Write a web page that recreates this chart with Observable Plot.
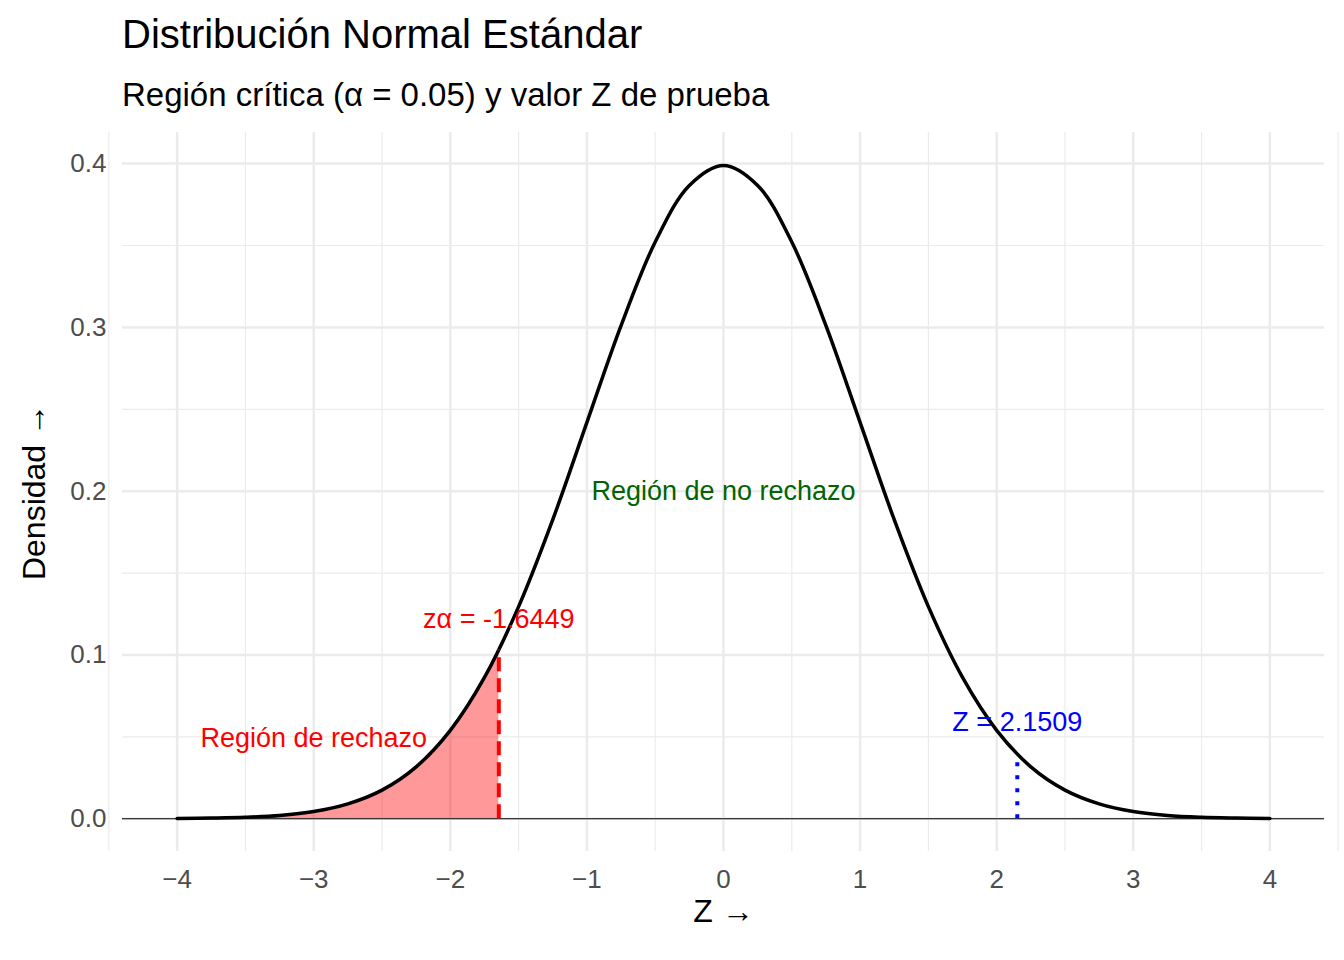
<!DOCTYPE html>
<html><head><meta charset="utf-8">
<script src="https://cdn.jsdelivr.net/npm/d3@7"></script>
<script src="https://cdn.jsdelivr.net/npm/@observablehq/plot@0.6"></script>
<style>
body{margin:0;background:#fff;font-family:"Liberation Sans",Arial,sans-serif;}
#wrap{position:relative;width:1344px;height:960px;}
#t{position:absolute;left:122px;top:12px;font-size:40px;color:#000;}
#s{position:absolute;left:122px;top:76px;font-size:33px;color:#000;}
#chart{position:absolute;left:0;top:0;}
</style></head><body>
<div id="wrap"><div id="chart"></div>
<div id="t">Distribución Normal Estándar</div>
<div id="s">Región crítica (α = 0.05) y valor Z de prueba</div></div>
<script>
// density values
const zs = [-4,-3.75,-3.5,-3.25,-3,-2.75,-2.5,-2.25,-2,-1.75,-1.5,-1.25,-1,-0.75,-0.5,-0.25,0,0.25,0.5,0.75,1,1.25,1.5,1.75,2,2.25,2.5,2.75,3,3.25,3.5,3.75,4];
const dens = [0.0001,0.0004,0.0009,0.002,0.0044,0.0091,0.0175,0.0317,0.054,0.0863,0.1295,0.1826,0.242,0.3011,0.3521,0.3867,0.3989,0.3867,0.3521,0.3011,0.242,0.1826,0.1295,0.0863,0.054,0.0317,0.0175,0.0091,0.0044,0.002,0.0009,0.0004,0.0001];
const zCrit = -1.6449, dCrit = 0.1031;
const zTest = 2.1509, dTest = 0.0395;

const curve = zs.map((z,i)=>({z, d:dens[i]}));
const shade = curve.filter(p=>p.z < zCrit).concat([{z:zCrit, d:dCrit}]);

const plot = Plot.plot({
  width:1344, height:960,
  marginLeft:122, marginRight:20, marginTop:132, marginBottom:109,
  style:{fontFamily:"Liberation Sans, Arial, sans-serif", fontSize:"26px", color:"#4d4d4d"},
  x:{domain:[-4.4,4.4], ticks:d3.range(-4,5), tickSize:0, tickPadding:18, label:"Z", labelAnchor:"center", labelOffset:70},
  y:{domain:[-0.02,0.419], ticks:[0,0.1,0.2,0.3,0.4], tickSize:0, tickPadding:16, tickFormat:d3.format(".1f"), label:"Densidad", labelAnchor:"center", labelOffset:100},
  marks:[
    Plot.gridX(d3.range(-4.5,4.6,1), {stroke:"#ebebeb", strokeOpacity:1, strokeWidth:1.2}),
    Plot.gridY([0.05,0.15,0.25,0.35], {stroke:"#ebebeb", strokeOpacity:1, strokeWidth:1.2}),
    Plot.gridX(d3.range(-4,5), {stroke:"#ebebeb", strokeOpacity:1, strokeWidth:2.5}),
    Plot.gridY([0,0.1,0.2,0.3,0.4], {stroke:"#ebebeb", strokeOpacity:1, strokeWidth:2.5}),
    Plot.areaY(shade, {x:"z", y:"d", fill:"red", fillOpacity:0.4, curve:"catmull-rom"}),
    Plot.ruleY([0], {stroke:"black", strokeWidth:1.2}),
    Plot.line(curve, {x:"z", y:"d", stroke:"black", strokeWidth:3.5, curve:"catmull-rom"}),
    Plot.ruleX([zCrit], {y1:0, y2:dCrit, stroke:"red", strokeWidth:4, strokeDasharray:"14,7"}),
    Plot.ruleX([zTest], {y1:0, y2:dTest, stroke:"blue", strokeWidth:4, strokeDasharray:"4,9"}),
    Plot.text(["Región de no rechazo"], {x:0, y:0.2, fill:"darkgreen", fontSize:27}),
    Plot.text(["zα = -1.6449"], {x:zCrit, y:0.122, fill:"red", fontSize:27}),
    Plot.text(["Región de rechazo"], {x:-3.0, y:0.049, fill:"red", fontSize:27}),
    Plot.text(["Z = 2.1509"], {x:zTest, y:0.059, fill:"blue", fontSize:27})
  ]
});
plot.querySelectorAll('[aria-label="x-axis label"] text, [aria-label="y-axis label"] text').forEach(t=>{t.style.fontSize="32px";t.setAttribute("fill","#000");});
document.getElementById("chart").append(plot);
</script></body></html>
